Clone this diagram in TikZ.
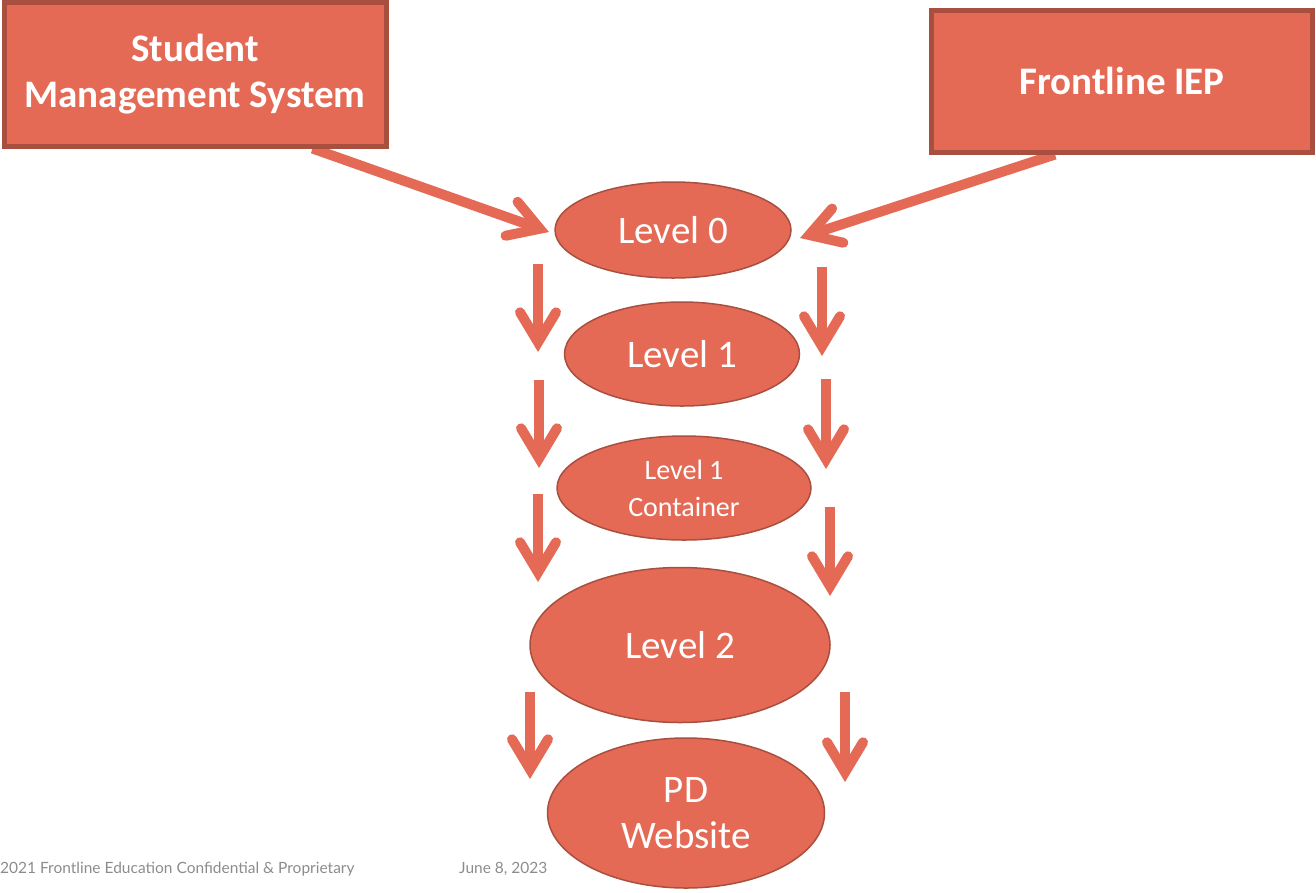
\documentclass[tikz,border=0pt]{standalone}
\usepackage{fontspec}
\setmainfont{Carlito}
\newfontfamily\footfont{Lato}
\usetikzlibrary{positioning, shapes.geometric, arrows.meta, backgrounds}
\definecolor{salmon}{HTML}{E46A55}
\definecolor{rust}{HTML}{A94F3F}
\definecolor{footgray}{HTML}{8C8C8C}

\begin{document}
\begin{tikzpicture}[
    x=1pt, y=-1pt,
    % --- STYLES ---
    source/.style={draw=rust, line width=5pt, fill=salmon, text=white, align=center, inner sep=0pt,
        font=\fontsize{39}{46}\selectfont\bfseries},
    level/.style={ellipse, draw=rust, line width=1.5pt, fill=salmon, text=white, align=center, inner sep=0pt,
        font=\fontsize{39}{46}\selectfont},
    flow/.style={draw=salmon, line width=10pt,
        -{Straight Barb[length=30pt, width=36pt, line cap=round, line join=miter]}},
    foot/.style={text=footgray, inner sep=0pt, font=\footfont\fontsize{15.5}{18}\selectfont}
]
\useasboundingbox (0,0) rectangle (1316,892);

% --- SOURCE SYSTEMS ---
\node (sms) [source, minimum width=382pt, minimum height=144pt] at (195,74) {Student\\Management System};
\node (iep) [source, minimum width=381pt, minimum height=142pt] at (1122,81) {Frontline IEP};

% --- LEVELS ---
\node (l0) [level, minimum width=236pt, minimum height=96pt] at (673,230) {Level 0};
\node (l1) [level, minimum width=235pt, minimum height=104pt] at (682,354) {Level 1};
\node (l1c) [level, minimum width=254pt, minimum height=104pt, font=\fontsize{28}{37}\selectfont] at (684,488) {Level 1\\Container};
\node (l2) [level, minimum width=300pt, minimum height=155pt] at (680,645) {Level 2};
\node (pd) [level, minimum width=277pt, minimum height=150pt] at (686,813) {PD\\Website};

% --- ARROW END POINTS ---
\coordinate (smsTip) at (549,232);
\coordinate (iepTip) at (800,238);
\coordinate (lt1) at (538,264); \coordinate (lb1) at (538,352);
\coordinate (lt2) at (539,380); \coordinate (lb2) at (539,468);
\coordinate (lt3) at (538,494); \coordinate (lb3) at (538,582);
\coordinate (lt4) at (530,692); \coordinate (lb4) at (530,779);
\coordinate (rt1) at (822,267); \coordinate (rb1) at (822,356);
\coordinate (rt2) at (826,379); \coordinate (rb2) at (826,469);
\coordinate (rt3) at (830,507); \coordinate (rb3) at (830,596);
\coordinate (rt4) at (845,692); \coordinate (rb4) at (845,782);

% Edges (Arrows)
\begin{scope}[on background layer]
\draw [flow] ([xshift=-76pt]sms.south east) -- (smsTip);
\draw [flow] ([xshift=-67pt]iep.south) -- (iepTip);
\end{scope}
\draw [flow] (lt1) -- (lb1);
\draw [flow] (lt2) -- (lb2);
\draw [flow] (lt3) -- (lb3);
\draw [flow] (lt4) -- (lb4);
\draw [flow] (rt1) -- (rb1);
\draw [flow] (rt2) -- (rb2);
\draw [flow] (rt3) -- (rb3);
\draw [flow] (rt4) -- (rb4);

% --- FOOTER ---
\node (legal) [foot, anchor=base west] at (0,873) {2021 Frontline Education Confidential \& Proprietary};
\node (date) [foot, anchor=base west] at (459,873) {June 8, 2023};

\end{tikzpicture}
\end{document}
